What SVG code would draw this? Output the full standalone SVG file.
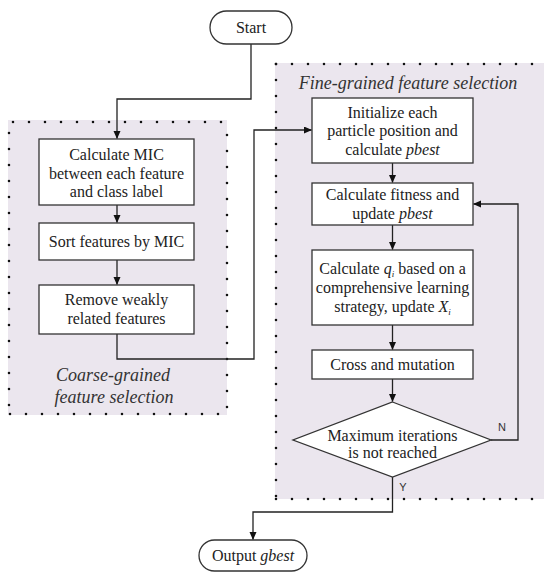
<svg xmlns="http://www.w3.org/2000/svg" width="544" height="572" viewBox="0 0 544 572">
<style>
.bg{fill:#ffffff}
.region{fill:#ebe6ee;stroke:none}
.dots{fill:none;stroke:#111;stroke-width:2.6;stroke-linecap:round;stroke-dasharray:0 16}
.box{fill:#ffffff;stroke:#333;stroke-width:1.3}
.t{font-family:'Liberation Serif','DejaVu Serif',serif;font-size:16px;fill:#222;text-anchor:middle}
.i{font-style:italic}
.title{font-family:'Liberation Serif','DejaVu Serif',serif;font-size:18px;font-style:italic;fill:#333;text-anchor:middle}
.lab{font-family:'Liberation Sans','DejaVu Sans',sans-serif;font-size:11px;fill:#333;text-anchor:middle}
.conn{fill:none;stroke:#222;stroke-width:1.3}
</style>
<defs>
<marker id="arr" markerWidth="8" markerHeight="8" refX="7.5" refY="3.5" orient="auto" markerUnits="userSpaceOnUse">
<path d="M0,0 L8,3.5 L0,7 z" fill="#111"/>
</marker>
</defs>
<rect class="bg" x="0" y="0" width="544" height="572"/>

<g id="coarse-region">
<rect class="region" x="8" y="120" width="219" height="295"/>
<line class="dots" x1="13" y1="122" x2="227" y2="122"/>
<line class="dots" x1="9" y1="133" x2="9" y2="414"/>
<line class="dots" x1="10" y1="414" x2="227" y2="414"/>
<line class="dots" x1="227" y1="135" x2="227" y2="414"/>
<text class="title" x="113" y="381">Coarse-grained</text>
<text class="title" x="114" y="403">feature selection</text>
</g>

<g id="fine-region">
<rect class="region" x="275" y="63" width="269" height="436"/>
<line class="dots" x1="276" y1="64" x2="535" y2="64"/>
<line class="dots" x1="276" y1="64" x2="276" y2="499"/>
<line class="dots" x1="276" y1="499" x2="535" y2="499"/>
<text class="title" x="408" y="89">Fine-grained feature selection</text>
</g>

<g id="connectors">
<path class="conn" d="M251,44 V99 H117 V138.5" marker-end="url(#arr)"/>
<path class="conn" d="M117,205 V222.5" marker-end="url(#arr)"/>
<path class="conn" d="M117,260 V284.5" marker-end="url(#arr)"/>
<path class="conn" d="M117,334 V359 H254 V130 H311.5" marker-end="url(#arr)"/>
<path class="conn" d="M392.5,163 V182.5" marker-end="url(#arr)"/>
<path class="conn" d="M392.5,225 V249.5" marker-end="url(#arr)"/>
<path class="conn" d="M392.5,325 V349.5" marker-end="url(#arr)"/>
<path class="conn" d="M392.5,379 V401.5" marker-end="url(#arr)"/>
<path class="conn" d="M491,440 H518 V204 H473.5" marker-end="url(#arr)"/>
<path class="conn" d="M392.5,477 V512 H253 V539.5" marker-end="url(#arr)"/>
<text class="lab" x="502" y="431">N</text>
<text class="lab" x="403" y="491">Y</text>
</g>

<g id="start">
<rect class="box" x="210" y="11" width="82" height="33" rx="16.5"/>
<text class="t" x="251" y="33">Start</text>
</g>

<g id="calc-mic">
<rect class="box" x="39" y="139" width="155" height="66"/>
<text class="t" x="116.5" y="160">Calculate MIC</text>
<text class="t" x="116.5" y="178.5">between each feature</text>
<text class="t" x="116.5" y="197">and class label</text>
</g>

<g id="sort">
<rect class="box" x="39" y="223" width="155" height="37"/>
<text class="t" x="116.5" y="247">Sort features by MIC</text>
</g>

<g id="remove">
<rect class="box" x="39" y="285" width="155" height="49"/>
<text class="t" x="116.5" y="305">Remove weakly</text>
<text class="t" x="116.5" y="324">related features</text>
</g>

<g id="init">
<rect class="box" x="312" y="98" width="161" height="65"/>
<text class="t" x="392.5" y="117.5">Initialize each</text>
<text class="t" x="392.5" y="136">particle position and</text>
<text class="t" x="392.5" y="154.5">calculate <tspan class="i">pbest</tspan></text>
</g>

<g id="fitness">
<rect class="box" x="312" y="183" width="161" height="42"/>
<text class="t" x="392.5" y="200">Calculate fitness and</text>
<text class="t" x="392.5" y="218.5">update <tspan class="i">pbest</tspan></text>
</g>

<g id="calc-q">
<rect class="box" x="312" y="250" width="161" height="75"/>
<text class="t" x="392.5" y="274">Calculate <tspan class="i">q</tspan><tspan class="i" font-size="9" dy="3">i</tspan><tspan dy="-3"> based on a</tspan></text>
<text class="t" x="392.5" y="293">comprehensive learning</text>
<text class="t" x="392.5" y="312">strategy, update <tspan class="i">X</tspan><tspan class="i" font-size="9" dy="3">i</tspan></text>
</g>

<g id="cross">
<rect class="box" x="312" y="350" width="161" height="29"/>
<text class="t" x="392.5" y="370">Cross and mutation</text>
</g>

<g id="decision">
<polygon class="box" points="392.5,402 491,440 392.5,477 293,440"/>
<text class="t" x="392.5" y="440.5">Maximum iterations</text>
<text class="t" x="392.5" y="457.5">is not reached</text>
</g>

<g id="output">
<rect class="box" x="199" y="540" width="108" height="31" rx="15.5"/>
<text class="t" x="253" y="561">Output <tspan class="i">gbest</tspan></text>
</g>
</svg>
